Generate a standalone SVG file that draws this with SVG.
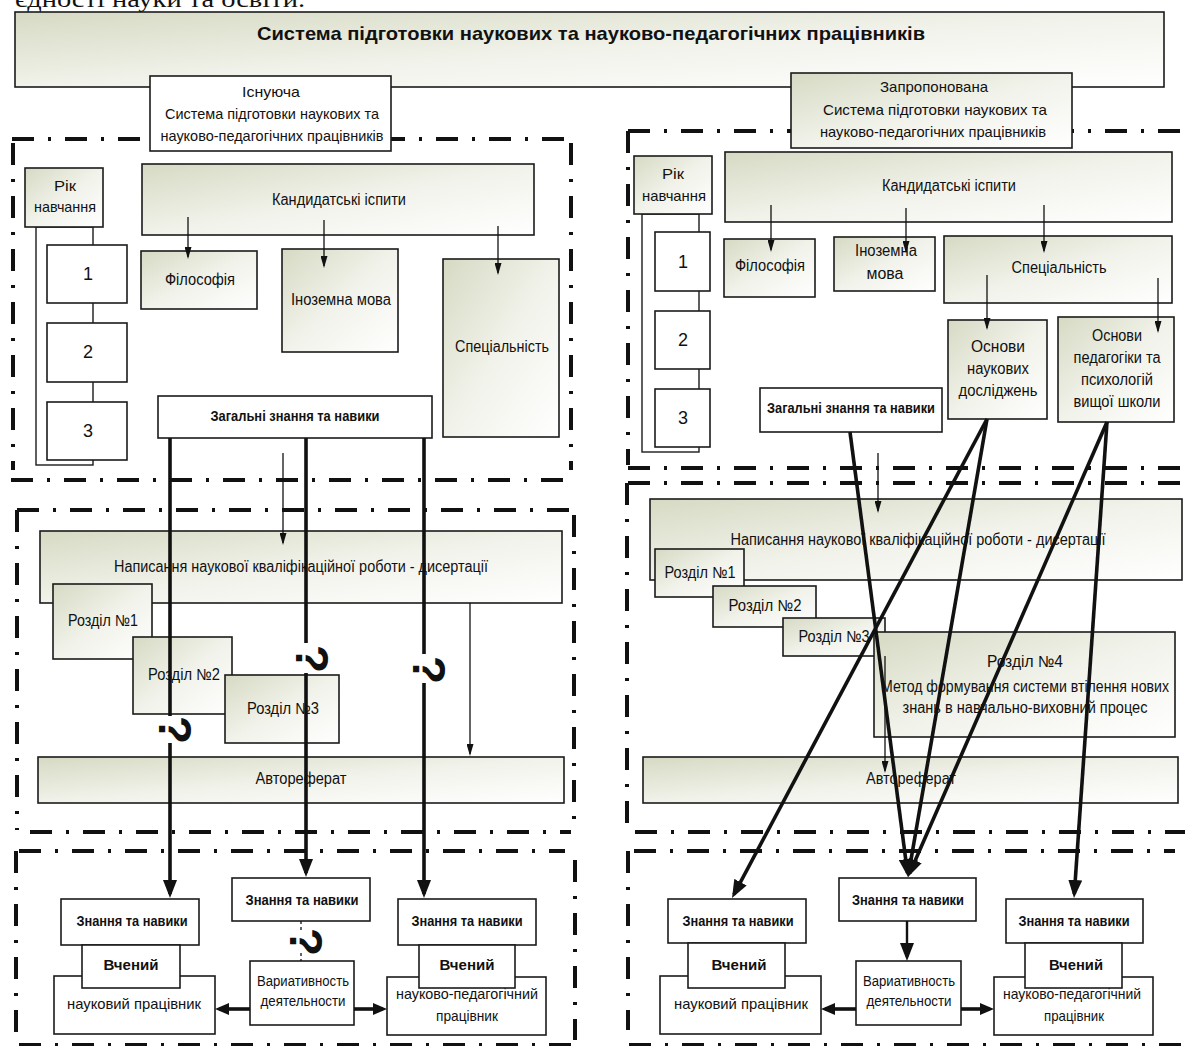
<svg xmlns="http://www.w3.org/2000/svg" width="1185" height="1046" viewBox="0 0 1185 1046">
<defs>
<linearGradient id="gr" x1="0" y1="0" x2="1" y2="1">
<stop offset="0" stop-color="#d6dac3"/>
<stop offset="0.5" stop-color="#f1f2ea"/>
<stop offset="1" stop-color="#ffffff"/>
</linearGradient>
<marker id="ta" markerUnits="userSpaceOnUse" markerWidth="12" markerHeight="7" refX="10" refY="3.5" orient="auto"><path d="M0,0 L12,3.5 L0,7 z" fill="#111"/></marker>
<marker id="TA" markerUnits="userSpaceOnUse" markerWidth="18" markerHeight="14" refX="14" refY="7" orient="auto"><path d="M0,0 L18,7 L0,14 z" fill="#111"/></marker>
<marker id="SA" markerUnits="userSpaceOnUse" markerWidth="14" markerHeight="12" refX="10" refY="6" orient="auto"><path d="M0,0 L14,6 L0,12 z" fill="#111"/></marker>
<style>
.bx{stroke:#1b1b1b;stroke-width:1.6}
.g{fill:url(#gr)}
.w{fill:#fff}
text{font-family:"Liberation Sans",Arial,sans-serif;fill:#111;text-anchor:middle}
.r{font-size:16px}
.s{font-size:15px}
.b{font-size:14px;font-weight:bold}
.v{font-size:15px;font-weight:bold}
.n{font-size:18px}
.dd{fill:none;stroke:#111;stroke-width:4;stroke-dasharray:22 14 3 14}
.tn{fill:none;stroke:#111;stroke-width:1.3}
.tk{fill:none;stroke:#111;stroke-width:3.6}
.ds{fill:none;stroke:#111;stroke-width:1.3;stroke-dasharray:3 3}
.q{font-size:46px;font-weight:bold}
</style>
</defs>
<rect width="1185" height="1046" fill="#fff"/>
<text x="15" y="7" textLength="290" lengthAdjust="spacingAndGlyphs" style="font-family:'Liberation Serif',serif;font-size:24px;text-anchor:start">єдності науки та освіти.</text>

<g id="borders">
<path class="dd" d="M12,139 H570 M13,143 V470 M571,143 V470 M11,480 H571 M17,510 H575 M17,510 V830 M574,515 V820 M30,832 H571 M19,851 H565 M16,851 V1040 M575,860 V1040 M19,1045 H575"/>
<path class="dd" d="M628,131 H1185 M628,131 V465 M628,468 H1185 M628,483 H1185 M627,483 V823 M635,832 H1185 M634,851 H1175 M628,851 V1030 M629,1045 H1185"/>
</g>

<g id="title">
<rect class="bx g" x="15" y="12" width="1149" height="75"/>
<text x="591" y="40" style="font-size:19px;font-weight:bold" textLength="668" lengthAdjust="spacingAndGlyphs">Система підготовки наукових та науково-педагогічних працівників</text>
</g>

<g id="existing">
<rect class="bx w" x="150" y="76" width="241" height="75"/>
<text class="s" x="271" y="97" textLength="58" lengthAdjust="spacingAndGlyphs">Існуюча</text>
<text class="s" x="272" y="119" textLength="214" lengthAdjust="spacingAndGlyphs">Система підготовки наукових та</text>
<text class="s" x="272" y="141" textLength="223" lengthAdjust="spacingAndGlyphs">науково-педагогічних працівників</text>
</g>
<g id="proposed">
<rect class="bx g" x="791" y="73" width="281" height="75"/>
<text class="s" x="934" y="92" textLength="108" lengthAdjust="spacingAndGlyphs">Запропонована</text>
<text class="s" x="935" y="115" textLength="224" lengthAdjust="spacingAndGlyphs">Система підготовки наукових та</text>
<text class="s" x="933" y="137" textLength="226" lengthAdjust="spacingAndGlyphs">науково-педагогічних працівників</text>
</g>

<!-- LEFT PANEL -->
<g id="L-year">
<rect class="bx" fill="none" x="36" y="227" width="57" height="238" style="stroke-width:1.4"/>
<rect class="bx g" x="25" y="168" width="78" height="59"/>
<text class="s" x="65" y="191" textLength="22" lengthAdjust="spacingAndGlyphs">Рік</text>
<text class="s" x="65" y="212" textLength="62" lengthAdjust="spacingAndGlyphs">навчання</text>
</g>
<g id="L-y1"><rect class="bx w" x="47" y="245" width="80" height="58"/><text class="n" x="88" y="280">1</text></g>
<g id="L-y2"><rect class="bx w" x="47" y="323" width="80" height="59"/><text class="n" x="88" y="358">2</text></g>
<g id="L-y3"><rect class="bx w" x="47" y="402" width="80" height="58"/><text class="n" x="88" y="437">3</text></g>
<g id="L-exams"><rect class="bx g" x="142" y="164" width="392" height="71"/><text class="r" x="339" y="205" textLength="134" lengthAdjust="spacingAndGlyphs">Кандидатські іспити</text></g>
<g id="L-phil"><rect class="bx g" x="141" y="251" width="116" height="58"/><text class="r" x="200" y="285" textLength="70" lengthAdjust="spacingAndGlyphs">Філософія</text></g>
<g id="L-lang"><rect class="bx g" x="282" y="249" width="116" height="103"/><text class="r" x="341" y="305" textLength="100" lengthAdjust="spacingAndGlyphs">Іноземна мова</text></g>
<g id="L-spec"><rect class="bx g" x="443" y="259" width="116" height="178"/><text class="r" x="502" y="352" textLength="94" lengthAdjust="spacingAndGlyphs">Спеціальність</text></g>
<g id="L-general"><rect class="bx w" x="158" y="396" width="274" height="42"/><text class="b" x="295" y="421" textLength="169" lengthAdjust="spacingAndGlyphs">Загальні знання та навики</text></g>
<g id="L-thesis"><rect class="bx g" x="40" y="531" width="522" height="72"/><text class="r" x="301" y="572" textLength="374" lengthAdjust="spacingAndGlyphs">Написання наукової кваліфікаційної роботи - дисертації</text></g>
<g id="L-ch1"><rect class="bx g" x="53" y="584" width="99" height="75"/><text class="r" x="103" y="626" textLength="70" lengthAdjust="spacingAndGlyphs">Розділ №1</text></g>
<g id="L-ch2"><rect class="bx g" x="133" y="637" width="99" height="77"/><text class="r" x="184" y="680" textLength="72" lengthAdjust="spacingAndGlyphs">Розділ №2</text></g>
<g id="L-ch3"><rect class="bx g" x="225" y="675" width="114" height="68"/><text class="r" x="283" y="714" textLength="72" lengthAdjust="spacingAndGlyphs">Розділ №3</text></g>
<g id="L-abstract"><rect class="bx g" x="38" y="757" width="526" height="46"/><text class="r" x="301" y="784" textLength="91" lengthAdjust="spacingAndGlyphs">Автореферат</text></g>
<g id="L-know1"><rect class="bx w" x="61" y="899" width="138" height="46"/><text class="b" x="132" y="926" textLength="111" lengthAdjust="spacingAndGlyphs">Знання та навики</text></g>
<g id="L-sciw"><rect class="bx w" x="54" y="976" width="161" height="58"/><text class="s" x="134" y="1009" textLength="134" lengthAdjust="spacingAndGlyphs">науковий працівник</text></g>
<g id="L-sci1"><rect class="bx w" x="82" y="945" width="98" height="43"/><text class="v" x="131" y="970" textLength="55" lengthAdjust="spacingAndGlyphs">Вчений</text></g>
<g id="L-know2"><rect class="bx w" x="232" y="878" width="138" height="43"/><text class="b" x="302" y="905" textLength="113" lengthAdjust="spacingAndGlyphs">Знання та навики</text></g>
<g id="L-var"><rect class="bx w" x="250" y="961" width="104" height="64"/><text style="font-size:14px" x="303" y="986" textLength="92" lengthAdjust="spacingAndGlyphs">Вариативность</text><text style="font-size:14px" x="303" y="1006" textLength="85" lengthAdjust="spacingAndGlyphs">деятельности</text></g>
<g id="L-pedw"><rect class="bx w" x="387" y="977" width="159" height="58"/><text class="s" x="467" y="999" textLength="142" lengthAdjust="spacingAndGlyphs">науково-педагогічний</text><text class="s" x="467" y="1021" textLength="62" lengthAdjust="spacingAndGlyphs">працівник</text></g>
<g id="L-know3"><rect class="bx w" x="398" y="899" width="138" height="46"/><text class="b" x="467" y="926" textLength="111" lengthAdjust="spacingAndGlyphs">Знання та навики</text></g>
<g id="L-sci2"><rect class="bx w" x="419" y="945" width="96" height="43"/><text class="v" x="467" y="970" textLength="55" lengthAdjust="spacingAndGlyphs">Вчений</text></g>

<!-- RIGHT PANEL -->
<g id="R-year">
<rect class="bx" fill="none" x="642" y="214" width="57" height="238" style="stroke-width:1.4"/>
<rect class="bx g" x="634" y="156" width="78" height="58"/>
<text class="s" x="673" y="179" textLength="22" lengthAdjust="spacingAndGlyphs">Рік</text>
<text class="s" x="674" y="201" textLength="64" lengthAdjust="spacingAndGlyphs">навчання</text>
</g>
<g id="R-y1"><rect class="bx w" x="655" y="232" width="55" height="59"/><text class="n" x="683" y="268">1</text></g>
<g id="R-y2"><rect class="bx w" x="655" y="311" width="55" height="58"/><text class="n" x="683" y="346">2</text></g>
<g id="R-y3"><rect class="bx w" x="655" y="389" width="55" height="58"/><text class="n" x="683" y="424">3</text></g>
<g id="R-exams"><rect class="bx g" x="725" y="152" width="447" height="70"/><text class="r" x="949" y="191" textLength="134" lengthAdjust="spacingAndGlyphs">Кандидатські іспити</text></g>
<g id="R-phil"><rect class="bx g" x="724" y="239" width="91" height="58"/><text class="r" x="770" y="271" textLength="70" lengthAdjust="spacingAndGlyphs">Філософія</text></g>
<g id="R-lang"><rect class="bx g" x="834" y="237" width="101" height="54"/><text class="r" x="886" y="256" textLength="62" lengthAdjust="spacingAndGlyphs">Іноземна</text><text class="r" x="885" y="279" textLength="37" lengthAdjust="spacingAndGlyphs">мова</text></g>
<g id="R-spec"><rect class="bx g" x="944" y="236" width="228" height="67"/><text class="r" x="1059" y="273" textLength="95" lengthAdjust="spacingAndGlyphs">Спеціальність</text></g>
<g id="R-research"><rect class="bx g" x="948" y="320" width="99" height="99"/>
<text class="r" x="998" y="352" textLength="54" lengthAdjust="spacingAndGlyphs">Основи</text>
<text class="r" x="998" y="374" textLength="62" lengthAdjust="spacingAndGlyphs">наукових</text>
<text class="r" x="998" y="396" textLength="79" lengthAdjust="spacingAndGlyphs">досліджень</text></g>
<g id="R-pedagogy"><rect class="bx g" x="1058" y="317" width="116" height="105"/>
<text class="r" x="1117" y="341" textLength="50" lengthAdjust="spacingAndGlyphs">Основи</text>
<text class="r" x="1117" y="363" textLength="87" lengthAdjust="spacingAndGlyphs">педагогіки та</text>
<text class="r" x="1117" y="385" textLength="72" lengthAdjust="spacingAndGlyphs">психологій</text>
<text class="r" x="1117" y="407" textLength="87" lengthAdjust="spacingAndGlyphs">вищої школи</text></g>
<g id="R-general"><rect class="bx w" x="760" y="388" width="182" height="44"/><text class="b" x="851" y="413" textLength="168" lengthAdjust="spacingAndGlyphs">Загальні знання та навики</text></g>
<g id="R-thesis"><rect class="bx g" x="650" y="499" width="532" height="81"/><text class="r" x="918" y="545" textLength="375" lengthAdjust="spacingAndGlyphs">Написання наукової кваліфікаційної роботи - дисертації</text></g>
<g id="R-ch1"><rect class="bx g" x="655" y="549" width="89" height="48"/><text class="r" x="700" y="578" textLength="71" lengthAdjust="spacingAndGlyphs">Розділ №1</text></g>
<g id="R-ch2"><rect class="bx g" x="713" y="586" width="103" height="41"/><text class="r" x="765" y="611" textLength="73" lengthAdjust="spacingAndGlyphs">Розділ №2</text></g>
<g id="R-ch3"><rect class="bx g" x="783" y="618" width="102" height="38"/><text class="r" x="834" y="642" textLength="71" lengthAdjust="spacingAndGlyphs">Розділ №3</text></g>
<g id="R-ch4"><rect class="bx g" x="874" y="632" width="301" height="105"/>
<text class="r" x="1025" y="667" textLength="76" lengthAdjust="spacingAndGlyphs">Розділ  №4</text>
<text class="r" x="1025" y="692" textLength="288" lengthAdjust="spacingAndGlyphs">Метод формування системи втілення нових</text>
<text class="r" x="1025" y="713" textLength="245" lengthAdjust="spacingAndGlyphs">знань в навчально-виховний процес</text></g>
<g id="R-abstract"><rect class="bx g" x="643" y="757" width="535" height="46"/><text class="r" x="911" y="784" textLength="90" lengthAdjust="spacingAndGlyphs">Автореферат</text></g>
<g id="R-know1"><rect class="bx w" x="668" y="899" width="138" height="44"/><text class="b" x="738" y="926" textLength="111" lengthAdjust="spacingAndGlyphs">Знання та навики</text></g>
<g id="R-sciw"><rect class="bx w" x="660" y="976" width="161" height="58"/><text class="s" x="741" y="1009" textLength="134" lengthAdjust="spacingAndGlyphs">науковий працівник</text></g>
<g id="R-sci1"><rect class="bx w" x="688" y="943" width="97" height="45"/><text class="v" x="739" y="970" textLength="55" lengthAdjust="spacingAndGlyphs">Вчений</text></g>
<g id="R-know2"><rect class="bx w" x="839" y="878" width="137" height="43"/><text class="b" x="908" y="905" textLength="112" lengthAdjust="spacingAndGlyphs">Знання та навики</text></g>
<g id="R-var"><rect class="bx w" x="856" y="961" width="105" height="64"/><text style="font-size:14px" x="909" y="986" textLength="92" lengthAdjust="spacingAndGlyphs">Вариативность</text><text style="font-size:14px" x="909" y="1006" textLength="85" lengthAdjust="spacingAndGlyphs">деятельности</text></g>
<g id="R-pedw"><rect class="bx w" x="994" y="977" width="159" height="58"/><text class="s" x="1072" y="999" textLength="138" lengthAdjust="spacingAndGlyphs">науково-педагогічний</text><text class="s" x="1074" y="1021" textLength="60" lengthAdjust="spacingAndGlyphs">працівник</text></g>
<g id="R-know3"><rect class="bx w" x="1006" y="899" width="137" height="44"/><text class="b" x="1074" y="926" textLength="111" lengthAdjust="spacingAndGlyphs">Знання та навики</text></g>
<g id="R-sci2"><rect class="bx w" x="1025" y="943" width="97" height="45"/><text class="v" x="1076" y="970" textLength="54" lengthAdjust="spacingAndGlyphs">Вчений</text></g>

<g id="connectors">
<line class="tn" x1="188" y1="217" x2="188" y2="257" marker-end="url(#ta)"/>
<line class="tn" x1="324" y1="220" x2="324" y2="266" marker-end="url(#ta)"/>
<line class="tn" x1="498" y1="226" x2="498" y2="273" marker-end="url(#ta)"/>
<line class="tn" x1="283" y1="453" x2="283" y2="543" marker-end="url(#ta)"/>
<line class="tn" x1="470" y1="603" x2="470" y2="754" marker-end="url(#ta)"/>
<line class="tk" x1="170" y1="438" x2="170" y2="716"/>
<line class="tk" x1="170" y1="743" x2="170" y2="894" marker-end="url(#TA)"/>
<line class="tk" x1="306" y1="438" x2="306" y2="643"/>
<line class="tk" x1="306" y1="673" x2="306" y2="873" marker-end="url(#TA)"/>
<line class="tk" x1="424" y1="438" x2="424" y2="654"/>
<line class="tk" x1="424" y1="683" x2="424" y2="894" marker-end="url(#TA)"/>
<text class="q" transform="translate(176,730) rotate(90)" x="0" y="17">?</text>
<text class="q" transform="translate(313,659) rotate(90)" x="0" y="17">?</text>
<text class="q" transform="translate(430,670) rotate(90)" x="0" y="17">?</text>
<line class="ds" x1="301" y1="921" x2="301" y2="931"/>
<line class="ds" x1="301" y1="953" x2="301" y2="961"/>
<text class="q" transform="translate(307,942) rotate(90)" x="0" y="17">?</text>
<line class="tk" x1="250" y1="1009" x2="219" y2="1009" marker-end="url(#SA)"/>
<line class="tk" x1="354" y1="1009" x2="383" y2="1009" marker-end="url(#SA)"/>
<line class="tn" x1="771" y1="205" x2="771" y2="250" marker-end="url(#ta)"/>
<line class="tn" x1="906" y1="208" x2="906" y2="251" marker-end="url(#ta)"/>
<line class="tn" x1="1044" y1="205" x2="1044" y2="251" marker-end="url(#ta)"/>
<line class="tn" x1="987" y1="275" x2="987" y2="328" marker-end="url(#ta)"/>
<line class="tn" x1="1158" y1="278" x2="1158" y2="331" marker-end="url(#ta)"/>
<line class="tn" x1="878" y1="453" x2="878" y2="511" marker-end="url(#ta)"/>
<line class="tn" x1="885" y1="656" x2="885" y2="771" marker-end="url(#ta)"/>
<line class="tk" x1="907" y1="921" x2="907" y2="957" marker-end="url(#TA)" style="stroke-width:2.4"/>
<line class="tk" x1="850" y1="432" x2="907.5" y2="873" marker-end="url(#TA)"/>
<line class="tk" x1="987" y1="419" x2="733.9" y2="894.5" marker-end="url(#TA)"/>
<line class="tk" x1="987" y1="419" x2="908.7" y2="873.1" marker-end="url(#TA)"/>
<line class="tk" x1="1107" y1="422" x2="909.6" y2="873.3" marker-end="url(#TA)"/>
<line class="tk" x1="1107" y1="422" x2="1074.3" y2="894" marker-end="url(#TA)"/>
<line class="tk" x1="856" y1="1009" x2="825" y2="1009" marker-end="url(#SA)"/>
<line class="tk" x1="961" y1="1009" x2="990" y2="1009" marker-end="url(#SA)"/>
</g>
</svg>
